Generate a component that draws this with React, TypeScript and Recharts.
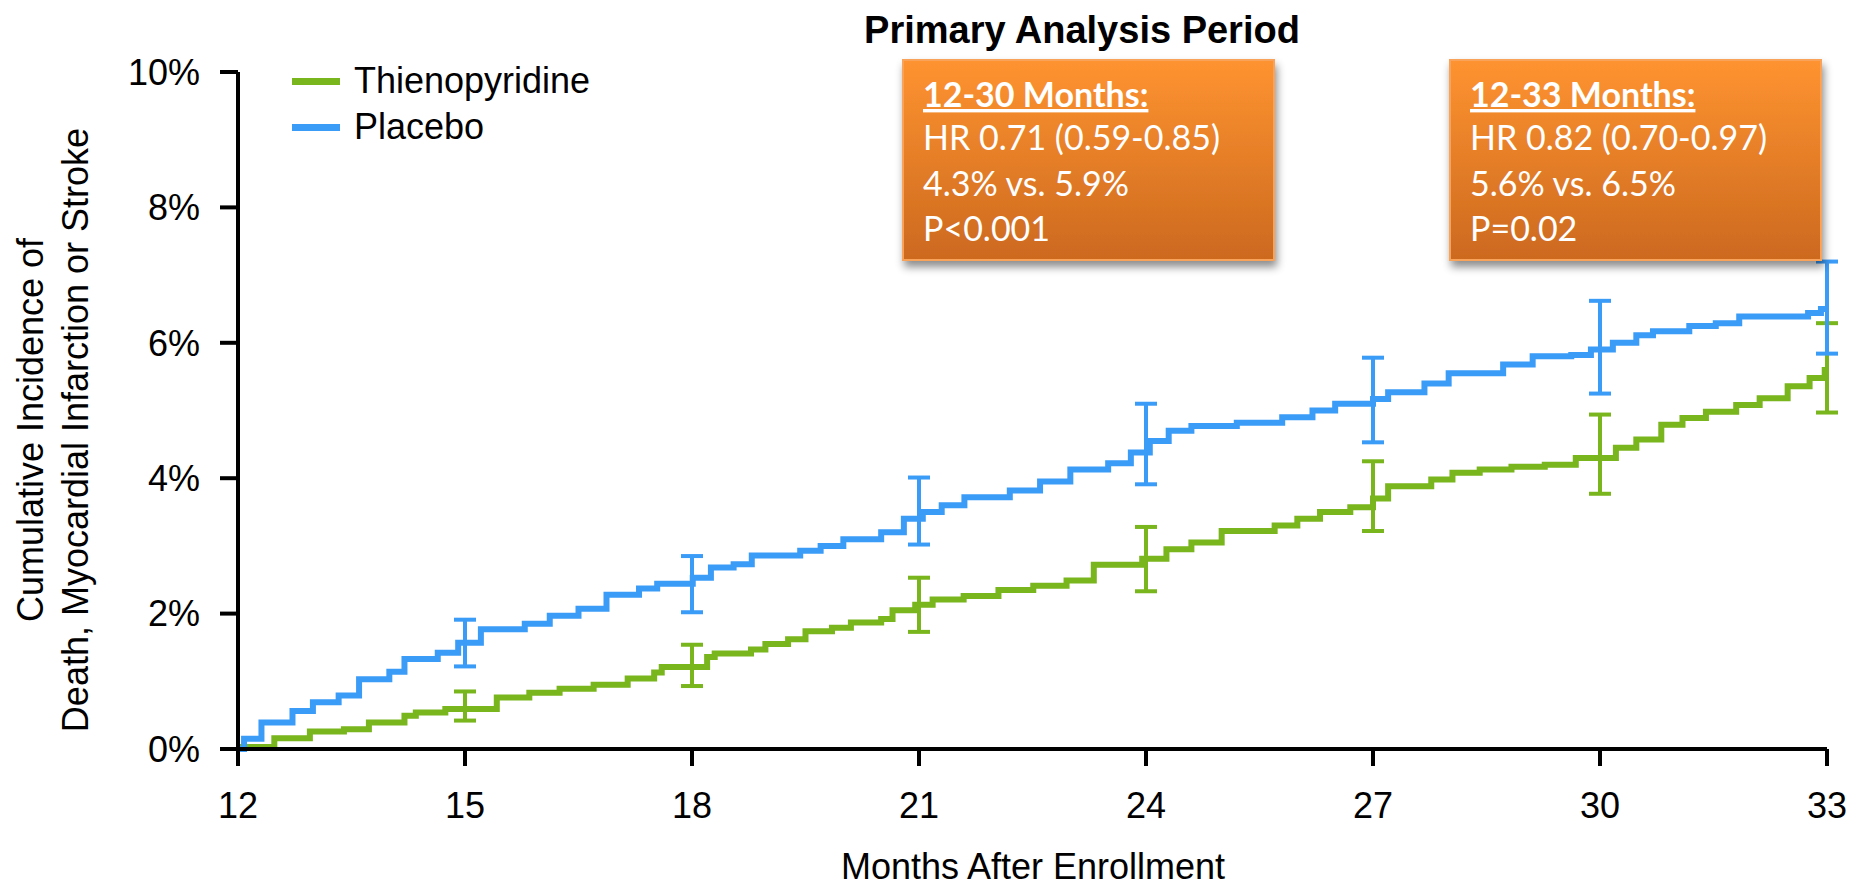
import React from "react";
import { ComposedChart, Line, Scatter, ErrorBar, XAxis, YAxis, Legend } from "recharts";

// Cumulative incidence (%) step estimates: [month, value from that month on]
const thienopyridineSteps: [number, number][] = [
  [12.0, 0.03], [12.48, 0.16], [12.95, 0.26], [13.4, 0.29], [13.73, 0.39],
  [14.2, 0.49], [14.35, 0.54], [14.74, 0.59], [15.42, 0.76], [15.85, 0.83],
  [16.25, 0.89], [16.7, 0.95], [17.15, 1.04], [17.5, 1.13], [17.6, 1.21],
  [18.2, 1.36], [18.3, 1.41], [18.78, 1.47], [18.97, 1.55], [19.27, 1.62],
  [19.5, 1.74], [19.85, 1.79], [20.1, 1.87], [20.5, 1.92], [20.65, 2.05],
  [20.95, 2.13], [21.18, 2.21], [21.59, 2.26], [22.05, 2.35], [22.51, 2.41],
  [22.95, 2.49], [23.31, 2.72], [23.95, 2.81], [24.27, 2.95], [24.6, 3.05],
  [25.0, 3.22], [25.7, 3.3], [26.0, 3.4], [26.3, 3.5], [26.7, 3.57],
  [27.0, 3.7], [27.2, 3.88], [27.77, 3.98], [28.05, 4.08], [28.41, 4.13],
  [28.83, 4.17], [29.27, 4.2], [29.68, 4.3], [30.21, 4.45], [30.48, 4.57],
  [30.81, 4.79], [31.09, 4.89], [31.4, 4.98], [31.8, 5.08], [32.11, 5.18],
  [32.48, 5.36], [32.77, 5.48], [32.97, 5.6], [33.0, 5.6],
];

const placeboSteps: [number, number][] = [
  [12.0, 0.0], [12.08, 0.15], [12.31, 0.39], [12.72, 0.56], [12.99, 0.69],
  [13.33, 0.79], [13.6, 1.03], [14.0, 1.14], [14.2, 1.33], [14.64, 1.42],
  [14.91, 1.57], [15.21, 1.77], [15.79, 1.85], [16.12, 1.97], [16.5, 2.07],
  [16.87, 2.28], [17.3, 2.37], [17.54, 2.44], [18.01, 2.53], [18.25, 2.68],
  [18.55, 2.73], [18.79, 2.86], [19.43, 2.93], [19.7, 3.0], [20.0, 3.1],
  [20.5, 3.2], [20.8, 3.4], [21.05, 3.5], [21.3, 3.6], [21.6, 3.72],
  [22.2, 3.82], [22.6, 3.95], [23.0, 4.13], [23.5, 4.22], [23.8, 4.38],
  [24.05, 4.55], [24.3, 4.7], [24.6, 4.77], [25.2, 4.82], [25.8, 4.9],
  [26.2, 5.0], [26.5, 5.1], [27.0, 5.17], [27.2, 5.27], [27.68, 5.4],
  [28.0, 5.55], [28.72, 5.68], [29.11, 5.8], [29.62, 5.82], [29.88, 5.9],
  [30.17, 6.0], [30.48, 6.11], [30.7, 6.17], [31.18, 6.25], [31.53, 6.29],
  [31.84, 6.39], [32.75, 6.44], [32.92, 6.5], [33.0, 6.5],
];

// 95% confidence limits every 3 months
const ciMonths = [15, 18, 21, 24, 27, 30, 33];
const thienopyridineEst = [0.59, 1.21, 2.13, 2.81, 3.7, 4.3, 5.6];
const thienopyridineLow = [0.42, 0.93, 1.73, 2.33, 3.22, 3.77, 4.97];
const thienopyridineHigh = [0.85, 1.54, 2.53, 3.28, 4.25, 4.94, 6.29];
const placeboEst = [1.57, 2.44, 3.5, 4.55, 5.17, 5.9, 6.5];
const placeboLow = [1.22, 2.02, 3.02, 3.91, 4.53, 5.25, 5.84];
const placeboHigh = [1.91, 2.85, 4.01, 5.1, 5.78, 6.62, 7.2];

const monthTicks = [12, 15, 18, 21, 24, 27, 30, 33];
const pctTicks = [0, 2, 4, 6, 8, 10];

const seriesNames = ["Thienopyridine", "Placebo"];
const seriesColors = ["#79B51C", "#3B9CF8"];

const title = "Primary Analysis Period";
const xTitle = "Months After Enrollment";
const yTitleLines = ["Cumulative Incidence of", "Death, Myocardial Infarction or Stroke"];

const statBoxes = [
  { heading: "12-30 Months:", lines: ["HR 0.71 (0.59-0.85)", "4.3% vs. 5.9%", "P<0.001"] },
  { heading: "12-33 Months:", lines: ["HR 0.82 (0.70-0.97)", "5.6% vs. 6.5%", "P=0.02"] },
];

const toRows = (steps: [number, number][]) => steps.map(([month, value]) => ({ month, value }));

const toCiRows = (est: number[], low: number[], high: number[]) =>
  ciMonths.map((month, i) => ({
    month,
    value: est[i],
    err: [+(est[i] - low[i]).toFixed(3), +(high[i] - est[i]).toFixed(3)],
  }));

const thienoRows = toRows(thienopyridineSteps);
const placeboRows = toRows(placeboSteps);
const thienoCi = toCiRows(thienopyridineEst, thienopyridineLow, thienopyridineHigh);
const placeboCi = toCiRows(placeboEst, placeboLow, placeboHigh);

const ARIAL = "'Liberation Sans', Arial, sans-serif";
const BOX_FONT = "Lato, 'Open Sans', sans-serif";

const W = 1852;
const H = 888;

const LegendBlock = () => (
  <div style={{ fontFamily: ARIAL, fontSize: 36, color: "#000" }}>
    {seriesNames.map((name, i) => (
      <div key={name} style={{ display: "flex", alignItems: "center", height: 46, lineHeight: "46px" }}>
        <span style={{ display: "inline-block", width: 48, height: 7, background: seriesColors[i], marginRight: 14 }} />
        <span>{name}</span>
      </div>
    ))}
  </div>
);

const noPoint = () => <g />;

export default function App() {
  const boxLefts = [903, 1450];
  const boxTop = 60;
  const boxW = 371;
  const boxH = 200;

  return (
    <div style={{ position: "absolute", left: 0, top: 0, width: W, height: H, background: "#fff" }}>
      <ComposedChart width={W} height={H} margin={{ top: 72, right: 25, bottom: 0, left: 0 }}>
        <XAxis
          type="number"
          dataKey="month"
          domain={[12, 33]}
          ticks={monthTicks}
          height={139}
          tickSize={17}
          tickMargin={26}
          axisLine={{ stroke: "#000", strokeWidth: 4 }}
          tickLine={{ stroke: "#000", strokeWidth: 4 }}
          tick={{ fill: "#000", fontSize: 36, fontFamily: ARIAL }}
        />
        <YAxis
          type="number"
          domain={[0, 10]}
          ticks={pctTicks}
          width={238}
          tickSize={18}
          tickMargin={20}
          tickFormatter={(v: number) => `${v}%`}
          axisLine={{ stroke: "#000", strokeWidth: 4 }}
          tickLine={{ stroke: "#000", strokeWidth: 4 }}
          tick={{ fill: "#000", fontSize: 36, fontFamily: ARIAL }}
        />
        <Legend
          layout="horizontal"
          verticalAlign="middle"
          align="center"
          content={() => <LegendBlock />}
          wrapperStyle={{ left: 292, top: 58, width: 420, height: 92 }}
        />
        <Line
          data={thienoRows}
          dataKey="value"
          name={seriesNames[0]}
          type="stepAfter"
          stroke={seriesColors[0]}
          strokeWidth={6}
          dot={false}
          activeDot={false}
          isAnimationActive={false}
        />
        <Scatter data={thienoCi} dataKey="value" shape={noPoint} isAnimationActive={false} legendType="none">
          <ErrorBar dataKey="err" direction="y" width={11} stroke={seriesColors[0]} strokeWidth={4} isAnimationActive={false} />
        </Scatter>
        <Line
          data={placeboRows}
          dataKey="value"
          name={seriesNames[1]}
          type="stepAfter"
          stroke={seriesColors[1]}
          strokeWidth={6}
          dot={false}
          activeDot={false}
          isAnimationActive={false}
        />
        <Scatter data={placeboCi} dataKey="value" shape={noPoint} isAnimationActive={false} legendType="none">
          <ErrorBar dataKey="err" direction="y" width={11} stroke={seriesColors[1]} strokeWidth={4} isAnimationActive={false} />
        </Scatter>
      </ComposedChart>

      <svg width={W} height={H} style={{ position: "absolute", left: 0, top: 0, pointerEvents: "none" }}>
        <defs>
          <linearGradient id="boxFill" x1="0" y1="0" x2="0" y2="1">
            <stop offset="0%" stopColor="#FE9330" />
            <stop offset="100%" stopColor="#CC691F" />
          </linearGradient>
          <filter id="boxShadow" x="-10%" y="-10%" width="125%" height="130%">
            <feDropShadow dx="2" dy="6" stdDeviation="4" floodColor="#000" floodOpacity="0.45" />
          </filter>
        </defs>

        <text x={1082} y={43} textAnchor="middle" fontFamily={ARIAL} fontWeight={700} fontSize={38} fill="#000">
          {title}
        </text>

        {statBoxes.map((box, i) => (
          <g key={box.heading}>
            <rect
              x={boxLefts[i]}
              y={boxTop}
              width={boxW}
              height={boxH}
              fill="url(#boxFill)"
              stroke="#F8A25A"
              strokeWidth={2}
              filter="url(#boxShadow)"
            />
            <text
              x={boxLefts[i] + 20}
              y={boxTop + 47}
              fontFamily={BOX_FONT}
              fontWeight={700}
              fontSize={34}
              fill="#fff"
              style={{ textDecoration: "underline" }}
            >
              {box.heading}
            </text>
            {box.lines.map((line, j) => (
              <text key={line} x={boxLefts[i] + 20} y={boxTop + 90 + j * 45.5} fontFamily={BOX_FONT} fontSize={34} fill="#fff">
                {line}
              </text>
            ))}
          </g>
        ))}

        <text x={1033} y={879} textAnchor="middle" fontFamily={ARIAL} fontSize={36} fill="#000">
          {xTitle}
        </text>
        <g transform="rotate(-90)" fontFamily={ARIAL} fontSize={36} fill="#000">
          <text x={-430} y={43} textAnchor="middle">{yTitleLines[0]}</text>
          <text x={-430} y={88} textAnchor="middle">{yTitleLines[1]}</text>
        </g>
      </svg>
    </div>
  );
}
